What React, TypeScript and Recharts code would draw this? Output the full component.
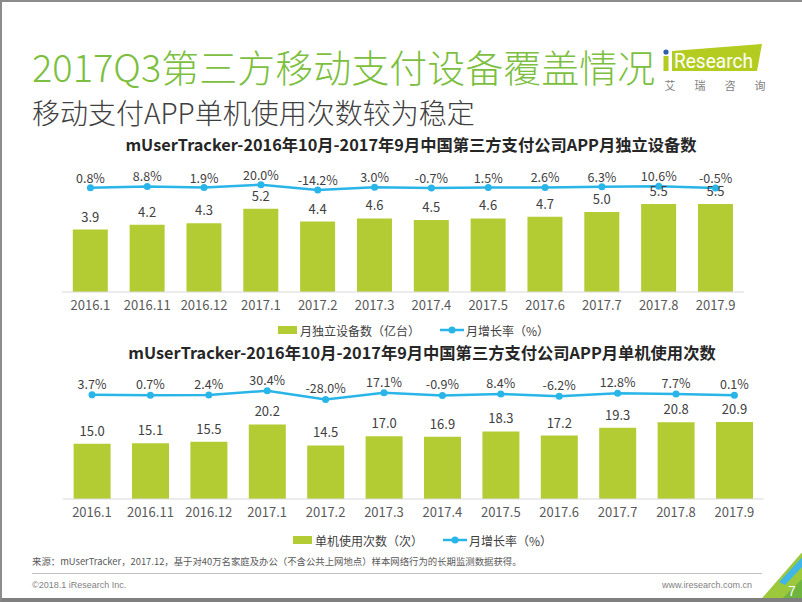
import React from "react";
import { ComposedChart, Bar, Line, XAxis, YAxis, LabelList } from "recharts";

const months = ["2016.1", "2016.11", "2016.12", "2017.1", "2017.2", "2017.3", "2017.4", "2017.5", "2017.6", "2017.7", "2017.8", "2017.9"];
const devices = [3.9, 4.2, 4.3, 5.2, 4.4, 4.6, 4.5, 4.6, 4.7, 5.0, 5.5, 5.5];
const deviceGrowth = [0.8, 8.8, 1.9, 20.0, -14.2, 3.0, -0.7, 1.5, 2.6, 6.3, 10.6, -0.5];
const usage = [15.0, 15.1, 15.5, 20.2, 14.5, 17.0, 16.9, 18.3, 17.2, 19.3, 20.8, 20.9];
const usageGrowth = [3.7, 0.7, 2.4, 30.4, -28.0, 17.1, -0.9, 8.4, -6.2, 12.8, 7.7, 0.1];

const data1 = months.map((m, i) => ({ month: m, value: devices[i], growth: deviceGrowth[i] }));
const data2 = months.map((m, i) => ({ month: m, value: usage[i], growth: usageGrowth[i] }));

const GREEN = "#b3cc33";
const BLUE = "#29b5e8";
const FONT = "'Noto Sans CJK SC', 'Noto Sans', sans-serif";
const LABEL = "#404040";

const fmt1 = (v: any) => Number(v).toFixed(1);
const fmtPct = (v: any) => Number(v).toFixed(1) + "%";

function Legend({ left, top, barText }: { left: number; top: number; barText: string }) {
  return (
    <div style={{ position: "absolute", left, top, display: "flex", alignItems: "center", fontFamily: FONT, fontSize: 12, color: LABEL, whiteSpace: "nowrap", height: 16 }}>
      <span style={{ display: "inline-block", width: 19, height: 8, background: GREEN, marginRight: 3 }} />
      <span>{barText}</span>
      <svg width={24} height={10} style={{ marginLeft: 20, marginRight: 2 }}>
        <line x1={0} y1={5} x2={24} y2={5} stroke={BLUE} strokeWidth={2.5} />
        <circle cx={12} cy={5} r={3.5} fill={BLUE} />
      </svg>
      <span>月增长率（%）</span>
    </div>
  );
}

function Combo({ data, width, height, margin, leftDomain, rightDomain, gap, lineOffset }: any) {
  return (
    <ComposedChart width={width} height={height} data={data} margin={margin} barCategoryGap={gap}>
      <XAxis
        dataKey="month"
        interval={0}
        height={30}
        tickLine={false}
        axisLine={{ stroke: "#d9d9d9", strokeWidth: 1 }}
        tick={{ fill: "#595959", fontSize: 13, fontFamily: FONT }}
        tickMargin={3}
      />
      <YAxis yAxisId="left" hide domain={leftDomain} type="number" allowDataOverflow />
      <YAxis yAxisId="right" orientation="right" hide domain={rightDomain} type="number" allowDataOverflow />
      <Bar yAxisId="left" dataKey="value" fill={GREEN} isAnimationActive={false}>
        <LabelList dataKey="value" position="top" offset={8} formatter={fmt1} fill={LABEL} fontSize={13} fontFamily={FONT} />
      </Bar>
      <Line
        yAxisId="right"
        dataKey="growth"
        stroke={BLUE}
        strokeWidth={2.5}
        dot={{ r: 3.5, fill: BLUE, stroke: BLUE, strokeWidth: 0 }}
        activeDot={false}
        isAnimationActive={false}
      >
        <LabelList dataKey="growth" position="top" offset={lineOffset} formatter={fmtPct} fill={LABEL} fontSize={12.5} fontFamily={FONT} />
      </Line>
    </ComposedChart>
  );
}

export default function App() {
  return (
    <div
      style={{
        position: "absolute",
        left: 0,
        top: 0,
        width: 802,
        height: 602,
        background: "#fff",
        overflow: "hidden",
        fontFamily: FONT,
        boxSizing: "border-box",
        borderTop: "2px solid #8c8c8c",
        borderLeft: "2px solid #8c8c8c",
        borderBottom: "4px solid #7f7f7f",
      }}
    >
      {/* main title */}
      <div style={{ position: "absolute", left: 30, top: 43, fontSize: 38, lineHeight: "42px", color: "#7cbf3f", fontWeight: 200, whiteSpace: "nowrap" }}>
        2017Q3第三方移动支付设备覆盖情况
      </div>
      <div style={{ position: "absolute", left: 30, top: 94, fontSize: 28, lineHeight: "32px", color: "#404040", fontWeight: 300, whiteSpace: "nowrap" }}>
        移动支付APP单机使用次数较为稳定
      </div>

      {/* logo */}
      <svg style={{ position: "absolute", left: 0, top: 0 }} width={802} height={110}>
        <polygon points="670,49 760,42 755,69 670,69" fill="#b3cc1f" />
        <circle cx={664} cy={50} r={2.6} fill="#2e5fa8" />
        <rect x={661.5} y={54} width={5} height={15} fill="#b3cc1f" />
        <text x={672} y={66} fill="#fff" fontSize={21} fontFamily="Roboto, sans-serif" textLength={79} lengthAdjust="spacingAndGlyphs">
          Research
        </text>
        {["艾", "瑞", "咨", "询"].map((c, i) => (
          <text key={c} x={668 + i * 30} y={88} fill="#7f7f7f" fontSize={11} fontFamily={FONT} textAnchor="middle">
            {c}
          </text>
        ))}
      </svg>

      {/* chart 1 */}
      <div style={{ position: "absolute", left: 9, top: 131, width: 800, textAlign: "center", fontSize: 16.3, lineHeight: "22px", fontWeight: 700, color: "#262626", whiteSpace: "nowrap" }}>
        mUserTracker-2016年10月-2017年9月中国第三方支付公司APP月独立设备数
      </div>
      <div style={{ position: "absolute", left: 0, top: 140 }}>
        <Combo
          data={data1}
          width={802}
          height={180}
          margin={{ top: 20, right: 60, bottom: 0, left: 60 }}
          leftDomain={[0, 8.125]}
          rightDomain={[-667.8, 165.5]}
          gap="19%"
          lineOffset={5}
        />
      </div>
      <Legend left={276} top={320} barText="月独立设备数（亿台）" />

      {/* chart 2 */}
      <div style={{ position: "absolute", left: 20, top: 339, width: 800, textAlign: "center", fontSize: 16.3, lineHeight: "22px", fontWeight: 700, color: "#262626", whiteSpace: "nowrap" }}>
        mUserTracker-2016年10月-2017年9月中国第三方支付公司APP月单机使用次数
      </div>
      <div style={{ position: "absolute", left: 0, top: 350 }}>
        <Combo
          data={data2}
          width={802}
          height={177}
          margin={{ top: 20, right: 40.4, bottom: 0, left: 60.8 }}
          leftDomain={[0, 34.42]}
          rightDomain={[-691.6, 155]}
          gap="18.5%"
          lineOffset={6}
        />
      </div>
      <Legend left={291} top={530} barText="单机使用次数（次）" />

      {/* footer */}
      <div style={{ position: "absolute", left: 30, top: 553, fontSize: 9.4, lineHeight: "12px", color: "#595959", whiteSpace: "nowrap" }}>
        来源：mUserTracker，2017.12，基于对40万名家庭及办公（不含公共上网地点）样本网络行为的长期监测数据获得。
      </div>
      <div style={{ position: "absolute", left: 30, top: 571, width: 730, height: 1, background: "#bfbfbf" }} />
      <div style={{ position: "absolute", left: 30, top: 577, fontSize: 9, lineHeight: "12px", color: "#7f7f7f", fontFamily: "'Liberation Sans', Arial, sans-serif", whiteSpace: "nowrap" }}>
        ©2018.1 iResearch Inc.
      </div>
      <div style={{ position: "absolute", right: 50, top: 577, fontSize: 9, lineHeight: "12px", color: "#7f7f7f", fontFamily: "'Liberation Sans', Arial, sans-serif", whiteSpace: "nowrap" }}>
        www.iresearch.com.cn
      </div>

      {/* corner decoration */}
      <svg style={{ position: "absolute", left: 0, top: 0 }} width={802} height={602}>
        <polygon points="802,548 802,602 755,602" fill="#9cc93b" />
        <polygon points="802,575 802,602 775,602" fill="#6fb43f" />
        <polygon points="802,553 802,563 783,583 777,580" fill="#3fb6e6" />
        <text x={786} y={594} fill="#fff" fontSize={14} fontFamily="'Liberation Sans', Arial, sans-serif">
          7
        </text>
      </svg>
    </div>
  );
}
